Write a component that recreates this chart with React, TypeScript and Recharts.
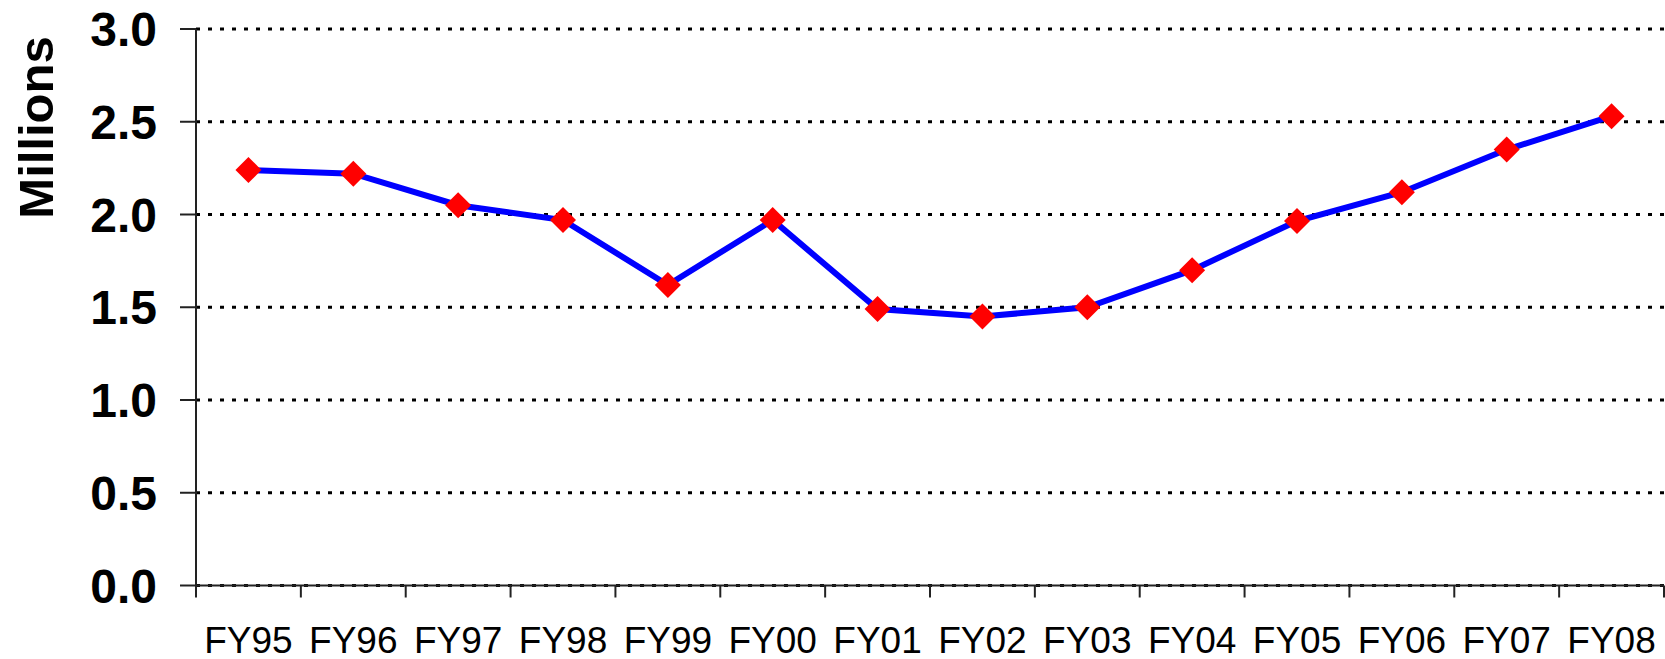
import React from 'react';
import { LineChart, Line, XAxis, YAxis, CartesianGrid, Label } from 'recharts';

const years = ['FY95', 'FY96', 'FY97', 'FY98', 'FY99', 'FY00', 'FY01', 'FY02', 'FY03', 'FY04', 'FY05', 'FY06', 'FY07', 'FY08'];
const millions = [2.24, 2.22, 2.05, 1.97, 1.62, 1.97, 1.49, 1.45, 1.5, 1.7, 1.965, 2.12, 2.35, 2.53];
const yTicks = [0, 0.5, 1.0, 1.5, 2.0, 2.5, 3.0];

// each year sits in the middle of its slot, tick marks fall on the slot edges
const slotEdges = years.map((_, i) => i).concat(years.length);
const slotMids = years.map((_, i) => i + 0.5);

const data = years.map((year, i) => ({ pos: i + 0.5, year, value: millions[i] }));

const FONT = '"Liberation Sans", Arial, sans-serif';

const XTick = (props: any) => {
  const { x, y, payload } = props;
  const v = payload.value as number;
  if (Number.isInteger(v)) {
    return <line x1={x} x2={x} y1={y} y2={y + 12} stroke="#222" strokeWidth={2} />;
  }
  return (
    <text x={x} y={y + 67} textAnchor="middle" fontFamily={FONT} fontSize={37} fill="#000">
      {years[Math.floor(v)]}
    </text>
  );
};

const Diamond = (props: any) => {
  const { cx, cy } = props;
  if (cx == null || cy == null) return null;
  const r = 13;
  return <polygon points={`${cx},${cy - r} ${cx + r},${cy} ${cx},${cy + r} ${cx - r},${cy}`} fill="#FF0000" />;
};

export default function App() {
  return (
    <div style={{ position: 'absolute', left: 0, top: 0, background: '#fff' }}>
      <LineChart width={1665} height={659} data={data} margin={{ top: 29, right: 1, left: 0, bottom: 0 }}>
        <CartesianGrid vertical={false} stroke="#000" strokeWidth={3} strokeDasharray="4 8" />
        <XAxis
          dataKey="pos"
          type="number"
          domain={[0, years.length]}
          ticks={[...slotEdges, ...slotMids].sort((a, b) => a - b)}
          interval={0}
          height={73.5}
          tickSize={0}
          tickMargin={0}
          tickLine={false}
          axisLine={{ stroke: '#222', strokeWidth: 2 }}
          tick={<XTick />}
        />
        <YAxis
          type="number"
          domain={[0, 3]}
          ticks={yTicks}
          interval={0}
          width={196}
          tickSize={16}
          tickMargin={23}
          tickLine={{ stroke: '#222', strokeWidth: 2 }}
          axisLine={{ stroke: '#222', strokeWidth: 2 }}
          tickFormatter={(v: number) => v.toFixed(1)}
          tick={{ fontFamily: FONT, fontSize: 48, fontWeight: 'bold', fill: '#000' }}
        >
          <Label
            content={({ viewBox }: any) => {
              const x = viewBox.x + 53;
              const y = viewBox.y + 98.5;
              return (
                <text
                  x={x}
                  y={y}
                  transform={`rotate(-90, ${x}, ${y})`}
                  textAnchor="middle"
                  fontFamily={FONT}
                  fontSize={49}
                  fontWeight="bold"
                  fill="#000"
                >
                  Millions
                </text>
              );
            }}
          />
        </YAxis>
        <Line
          type="linear"
          dataKey="value"
          stroke="#0000FF"
          strokeWidth={6}
          dot={<Diamond />}
          activeDot={false}
          isAnimationActive={false}
        />
      </LineChart>
    </div>
  );
}
